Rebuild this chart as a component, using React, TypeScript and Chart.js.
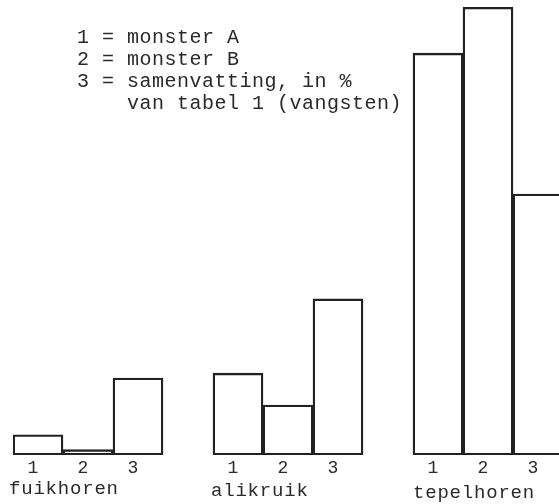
import React, { useEffect, useRef } from "react";
import { Chart, registerables } from "chart.js";

Chart.register(...registerables);

// Data
const categories = ["fuikhoren", "alikruik", "tepelhoren"];
const barLabels = ["1", "2", "3"];
const monsterA = [4.5, 18.2, 89.3];
const monsterB = [1.2, 11.1, 99.5];
const samenvatting = [17.1, 34.7, 58.0];
const legendLines = [
  "1 = monster A",
  "2 = monster B",
  "3 = samenvatting, in %",
  "    van tabel 1 (vangsten)",
];

const W = 575;
const H = 504;
const BASE_Y = 455;
const TICK_FONT = 18;
const TICK_PAD = 2;

export default function App() {
  const ref = useRef<HTMLCanvasElement | null>(null);

  useEffect(() => {
    const canvas = ref.current;
    if (!canvas) return;

    const slotLabels: string[] = [];
    const slotValues: (number | null)[] = [];
    const groupFirstSlot: number[] = [];
    categories.forEach((_, gi) => {
      groupFirstSlot.push(slotLabels.length);
      const vals = [monsterA[gi], monsterB[gi], samenvatting[gi]];
      barLabels.forEach((bl, bi) => {
        slotLabels.push(bl);
        slotValues.push(vals[bi]);
      });
      if (gi < categories.length - 1) {
        slotLabels.push("");
        slotValues.push(null);
      }
    });

    const textPlugin = {
      id: "texts",
      afterDraw(chart: any) {
        const ctx = chart.ctx as CanvasRenderingContext2D;
        const x = chart.scales.x;
        ctx.save();
        ctx.fillStyle = "#2a2a2a";
        ctx.textAlign = "left";
        ctx.textBaseline = "alphabetic";
        (ctx as any).letterSpacing = "0.5px";
        ctx.font = '20px "Liberation Mono", monospace';
        legendLines.forEach((line, i) => {
          ctx.fillText(line, 77, 43 + i * 22);
        });
        (ctx as any).letterSpacing = "0.8px";
        ctx.font = '19px "Liberation Mono", monospace';
        categories.forEach((name, gi) => {
          const px = x.getPixelForValue(groupFirstSlot[gi]);
          ctx.fillText(name, px - 29 + gi * 2, 494 + gi * 2);
        });
        ctx.restore();
      },
    };

    const chart = new Chart(canvas, {
      type: "bar",
      data: {
        labels: slotLabels,
        datasets: [
          {
            data: slotValues as any,
            backgroundColor: "rgba(255,255,255,0)",
            borderColor: "#222222",
            borderWidth: 1.7,
            borderSkipped: false,
            barPercentage: 1,
            categoryPercentage: 1,
          },
        ],
      },
      options: {
        responsive: false,
        animation: false,
        events: [],
        layout: {
          padding: {
            left: 13,
            right: W - 563,
            top: 5,
            bottom: H - BASE_Y - (TICK_FONT * 1.2 + TICK_PAD * 2),
          },
        },
        plugins: {
          legend: { display: false },
          tooltip: { enabled: false },
          title: { display: false },
        },
        scales: {
          x: {
            grid: { display: false, drawTicks: false },
            border: { display: false },
            ticks: {
              autoSkip: false,
              maxRotation: 0,
              padding: TICK_PAD,
              labelOffset: -5,
              color: "#2a2a2a",
              font: { family: '"Liberation Mono", monospace', size: TICK_FONT },
            },
          },
          y: {
            display: false,
            min: 0,
            max: 100,
          },
        },
      },
      plugins: [textPlugin],
    });

    return () => chart.destroy();
  }, []);

  return (
    <div
      style={{
        position: "fixed",
        left: 0,
        top: 0,
        width: 559,
        height: 504,
        overflow: "hidden",
        background: "#ffffff",
      }}
    >
      <canvas ref={ref} width={W} height={H} style={{ display: "block", width: W, height: H }} />
    </div>
  );
}
